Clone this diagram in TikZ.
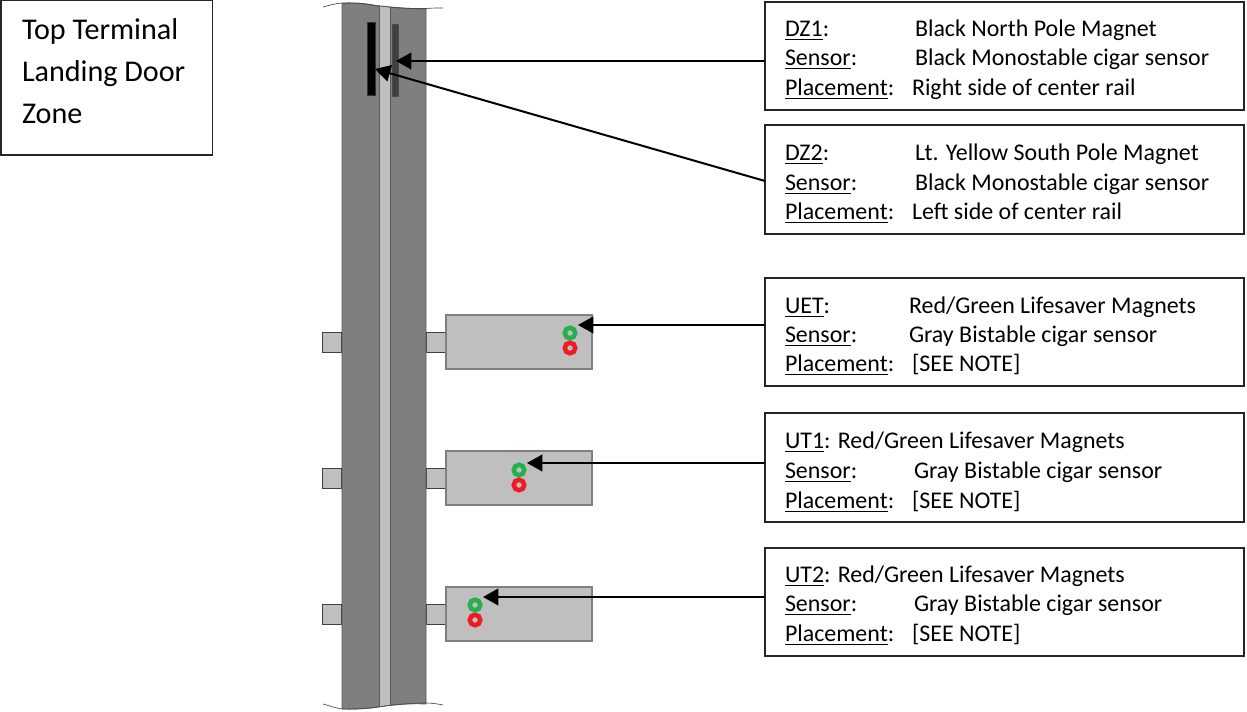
\documentclass[tikz,border=0pt]{standalone}
\usepackage{fontspec}
\setmainfont{Carlito}
\usetikzlibrary{arrows.meta}
\definecolor{railgray}{HTML}{7F7F7F}
\definecolor{railedge}{HTML}{595959}
\definecolor{lightgray}{HTML}{BFBFBF}
\definecolor{magnetdark}{HTML}{404040}
\definecolor{ringgreen}{HTML}{22B14C}
\definecolor{ringred}{HTML}{ED1C24}
\tikzset{
  x=0.75pt,y=-0.75pt,
  infobox/.style={draw=black!85,line width=1.1pt,fill=white},
  rowtext/.style={anchor=base west,inner sep=0pt,outer sep=0pt,yshift=-1.5pt,font=\fontsize{17.95pt}{20pt}\selectfont},
  bigtext/.style={anchor=base west,inner sep=0pt,outer sep=0pt,yshift=-1.5pt,font=\fontsize{22.6pt}{26pt}\selectfont},
  pointer/.style={draw=black,line width=1.5pt,-{Triangle[length=11.5pt,width=12.5pt]}},
  railpart/.style={fill=railgray,draw=railedge,line width=0.7pt},
  bracket/.style={fill=lightgray,draw=black!75,line width=0.7pt},
  plate/.style={fill=lightgray,draw=black!50,line width=0.9pt},
}
\newcommand{\lbl}[1]{\underline{#1}}
\newcommand{\ring}[4]{%
  \node[circle,draw=#4,line width=3.4pt,fill=lightgray,minimum size=7.9pt,inner sep=0pt] (#1) at (#2,#3) {};}
\newcommand{\panel}[4]{%
  \path[infobox] (765,#2) rectangle (1244,#3);
  \coordinate (#1) at (765,#4);}
\begin{document}
\begin{tikzpicture}
\useasboundingbox (0,0) rectangle (1247,712);
% brackets
\foreach \yy in {332,468,604}{
  \path[bracket] (322,\yy) rectangle (341,\yy+20);
  \path[bracket] (426,\yy) rectangle (446,\yy+20);
}
% rail
\path[railpart] (342,3.5) .. controls (352,3) and (362,3) .. (372,5) .. controls (385,7) and (410,9) .. (426,9)
  -- (426,704) .. controls (410,703) and (390,705) .. (378,707) .. controls (365,709) and (350,709) .. (342,709) -- cycle;
\path[fill=lightgray,draw=none] (379,6) -- (390,7.5) -- (390,705) -- (379,706.5) -- cycle;
\draw[railedge,line width=0.3pt] (379,6) -- (379,706.5) (390,7.5) -- (390,705);
\draw[black!70,line width=0.5pt] (323,7) .. controls (330,5) and (336,3.5) .. (342,3) .. controls (352,2.5) and (362,3) .. (372,5)
  .. controls (385,7) and (410,9) .. (426,8.5) .. controls (432,8) and (438,8) .. (443,8);
\draw[black!70,line width=0.5pt] (323,704) .. controls (330,706) and (336,708) .. (342,709)
  .. controls (350,709.5) and (365,709) .. (378,707) .. controls (390,705) and (410,703) .. (426,703) .. controls (432,703) and (438,704) .. (443,705);
% magnets
\path[fill=black,draw=black!80,line width=0.4pt] (367.5,22) rectangle (375.5,95);
\path[fill=magnetdark,draw=black!70,line width=0.4pt] (392,24) rectangle (398,96);
% plates
\path[plate] (446,315) rectangle (592,369);
\path[plate] (446,451) rectangle (592,505);
\path[plate] (446,587) rectangle (592,641);
% rings
\ring{uetg}{570}{333}{ringgreen}
\ring{uetr}{570}{348}{ringred}
\ring{utag}{519}{470}{ringgreen}
\ring{utar}{519}{485}{ringred}
\ring{utbg}{475}{605}{ringgreen}
\ring{utbr}{475}{620}{ringred}
% title box
\path[infobox] (1,0) rectangle (212.5,155);
\node[bigtext] (t1) at (22,38) {Top Terminal};
\node[bigtext] (t2) at (22,80) {Landing Door};
\node[bigtext] (t3) at (22,122) {Zone};
% panels
\panel{dzastart}{2}{110}{61}
\panel{dzbstart}{125}{234}{181}
\panel{uetstart}{278}{386}{325}
\panel{utastart}{413}{522}{463}
\panel{utbstart}{548}{656}{597}
% DZ1
\node[rowtext] (a1) at (785,35) {\lbl{DZ1}:};
\node[rowtext] (a2) at (915,35) {Black North Pole Magnet};
\node[rowtext] (a3) at (785,64) {\lbl{Sensor}:};
\node[rowtext] (a4) at (915,64) {Black Monostable cigar sensor};
\node[rowtext] (a5) at (785,94) {\lbl{Placement}:};
\node[rowtext] (a6) at (912,94) {Right side of center rail};
% DZ2
\node[rowtext] (b1) at (785,159) {\lbl{DZ2}:};
\node[rowtext] (b2) at (915,159) {Lt. Yellow South Pole Magnet};
\node[rowtext] (b3) at (785,189) {\lbl{Sensor}:};
\node[rowtext] (b4) at (915,189) {Black Monostable cigar sensor};
\node[rowtext] (b5) at (785,218) {\lbl{Placement}:};
\node[rowtext] (b6) at (912,218) {Left side of center rail};
% UET
\node[rowtext] (c1) at (785,312) {\lbl{UET}:};
\node[rowtext] (c2) at (909,312) {Red/Green Lifesaver Magnets};
\node[rowtext] (c3) at (785,341) {\lbl{Sensor}:};
\node[rowtext] (c4) at (909,341) {Gray Bistable cigar sensor};
\node[rowtext] (c5) at (785,370) {\lbl{Placement}:};
\node[rowtext] (c6) at (912,370) {[SEE NOTE]};
% UT1
\node[rowtext] (d1) at (785,447) {\lbl{UT1}: Red/Green Lifesaver Magnets};
\node[rowtext] (d3) at (785,477) {\lbl{Sensor}:};
\node[rowtext] (d4) at (914,477) {Gray Bistable cigar sensor};
\node[rowtext] (d5) at (785,507) {\lbl{Placement}:};
\node[rowtext] (d6) at (912,507) {[SEE NOTE]};
% UT2
\node[rowtext] (e1) at (785,581) {\lbl{UT2}: Red/Green Lifesaver Magnets};
\node[rowtext] (e3) at (785,610) {\lbl{Sensor}:};
\node[rowtext] (e4) at (914,610) {Gray Bistable cigar sensor};
\node[rowtext] (e5) at (785,640) {\lbl{Placement}:};
\node[rowtext] (e6) at (912,640) {[SEE NOTE]};
% arrows
\coordinate (dzatip) at (396,61);
\coordinate (dzbtip) at (375,69);
\coordinate (uettip) at (578,325);
\coordinate (utatip) at (527,463);
\coordinate (utbtip) at (483,597);
\draw[pointer] (dzastart) -- (dzatip);
\draw[pointer] (dzbstart) -- (dzbtip);
\draw[pointer] (uetstart) -- (uettip);
\draw[pointer] (utastart) -- (utatip);
\draw[pointer] (utbstart) -- (utbtip);
\end{tikzpicture}
\end{document}
